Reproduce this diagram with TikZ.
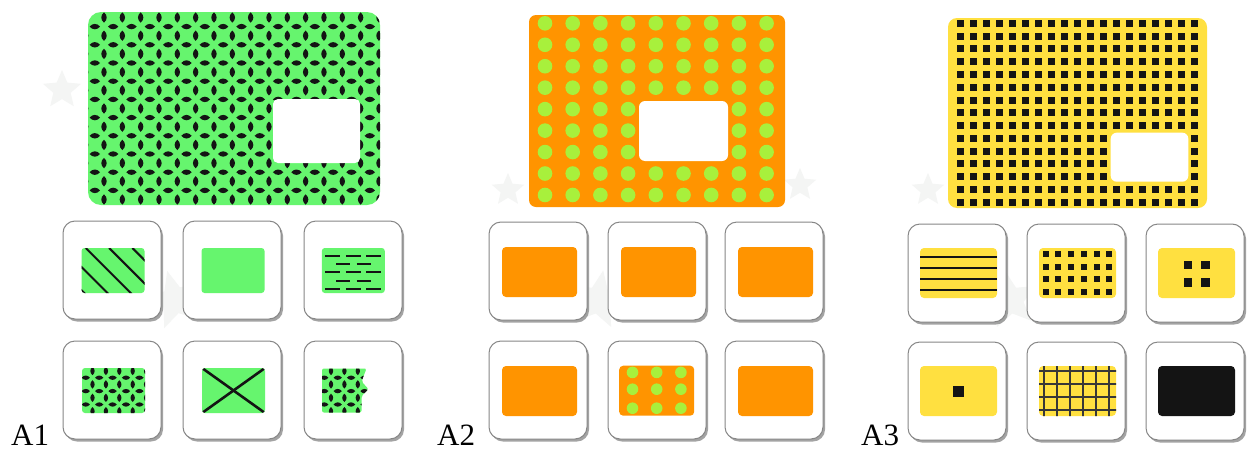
\documentclass[tikz,border=0pt]{standalone}
\usepackage{fontspec}
\setmainfont{Liberation Serif}
\usetikzlibrary{shapes.geometric,shadows}
\definecolor{pgreen}{RGB}{102,245,110}
\definecolor{porange}{RGB}{255,148,0}
\definecolor{pdot}{RGB}{168,240,60}
\definecolor{pyellow}{RGB}{255,224,64}
\definecolor{pblack}{RGB}{20,20,20}
\definecolor{tileborder}{RGB}{135,135,135}
\definecolor{starbg}{RGB}{244,245,244}
\newcommand\lensV[3]{\fill[pblack,shift={(#1,#2)},scale=#3] (0,-5.2) .. controls (3.6,-2.2) and (3.6,2.2) .. (0,5.2) .. controls (-3.6,2.2) and (-3.6,-2.2) .. cycle;}
\newcommand\lensH[3]{\fill[pblack,shift={(#1,#2)},scale=#3,rotate=90] (0,-5.2) .. controls (3.6,-2.2) and (3.6,2.2) .. (0,5.2) .. controls (-3.6,2.2) and (-3.6,-2.2) .. cycle;}
\begin{document}
\begin{tikzpicture}[x=1pt,y=-1pt,
  tile/.style={draw=tileborder, line width=1pt, fill=white, rounded corners=12pt,
    minimum width=98pt, minimum height=98pt, inner sep=0pt,
    drop shadow={shadow xshift=2pt, shadow yshift=-2.5pt, fill=black!45, opacity=0.8}},
  mainpanel/.style={inner sep=0pt, outer sep=0pt},
  hole/.style={fill=white, inner sep=0pt, rounded corners=5pt},
  inA1/.style={fill=pgreen, minimum width=63pt, minimum height=45pt, inner sep=0pt, outer sep=0pt, rounded corners=3pt},
  inA2/.style={fill=porange, minimum width=75pt, minimum height=50pt, inner sep=0pt, outer sep=0pt, rounded corners=4pt},
  inA3/.style={fill=pyellow, minimum width=77pt, minimum height=50pt, inner sep=0pt, outer sep=0pt, rounded corners=4pt},
  bgstar/.style={star, star points=5, star point ratio=2.2, fill=starbg, inner sep=0pt},
  lbl/.style={anchor=base west, inner sep=0pt, font=\fontsize{31}{31}\selectfont}
]
\useasboundingbox (0,0) rectangle (1259,453);
\fill[white] (0,0) rectangle (1259,453);

% faint background stars
\node[bgstar, minimum size=40pt] (s1) at (62,90) {};
\node[bgstar, minimum size=34pt] (s2) at (508,190) {};
\node[bgstar, minimum size=34pt] (s3) at (928,190) {};
\node[bgstar, minimum size=60pt, rotate=15] (s4) at (175,300) {};
\node[bgstar, minimum size=60pt, rotate=-10] (s5) at (598,300) {};
\node[bgstar, minimum size=60pt, rotate=10] (s6) at (1010,300) {};
\node[bgstar, minimum size=34pt] (s7) at (800,185) {};

% ================= A1 main =================
\node[mainpanel, fill=pgreen, rounded corners=13pt, minimum width=292pt, minimum height=193pt] (a1main) at (234,108.5) {};
\begin{scope}
  \clip[rounded corners=13pt] (a1main.north west) rectangle (a1main.south east);
  \foreach \i in {-1,...,15}{\foreach \j in {-1,...,11}{
    \lensV{104+18.33*\i}{17.5+18.2*\j}{1}
    \lensH{113.17+18.33*\i}{26.6+18.2*\j}{1}
  }}
\end{scope}
\node[hole, minimum width=87pt, minimum height=64pt] (a1hole) at (316.5,131) {};

% ================= A2 main =================
\node[mainpanel, fill=porange, rounded corners=7pt, minimum width=256pt, minimum height=192pt] (a2main) at (657,111) {};
\foreach \i in {0,...,8}{\foreach \j in {0,...,8}{
  \fill[pdot] (545+27.7*\i, 23.3+21.46*\j) circle (7.3);
}}
\node[hole, rounded corners=6pt, minimum width=89pt, minimum height=60pt] (a2hole) at (683.5,131) {};

% ================= A3 main =================
\node[mainpanel, fill=pyellow, rounded corners=9pt, minimum width=259pt, minimum height=190pt] (a3main) at (1077.5,113) {};
\foreach \i in {0,...,18}{\foreach \j in {0,...,14}{
  \fill[pblack] (960.7+12.98*\i-3.5, 23.3+12.79*\j-3.5) rectangle ++(7,7);
}}
\node[hole, rounded corners=6pt, minimum width=77.6pt, minimum height=49pt] (a3hole) at (1149.5,157.2) {};

% ================= A1 tiles =================
\foreach \n/\x/\y in {1/112/270, 2/232/270, 3/353/270, 4/112/390, 5/232/390, 6/353/390}{
  \node[tile] (a1t\n) at (\x,\y) {};
}
\node[inA1] (a1o1) at (113,270.5) {};
\node[inA1] (a1o2) at (233,270.5) {};
\node[inA1] (a1o3) at (353.3,270.5) {};
\node[inA1] (a1o4) at (113.5,390.5) {};
\node[inA1] (a1o5) at (233.5,390.5) {};
% tile 1: diagonal lines
\begin{scope}
  \clip[rounded corners=3pt] (a1o1.north west) rectangle (a1o1.south east);
  \foreach \k in {-2,...,3}{
    \draw[pblack, line width=2pt] (81.5+4.3+23.3*\k, 248) -- ++(70,70);
  }
\end{scope}
% tile 3: dashes
\foreach \yy in {-16.8,0,16.8}{
  \foreach \xx in {-20.5,0,20.5}{
    \draw[pblack, line width=2pt] (353.3+\xx-7.5, 272.3+\yy) -- ++(15,0);
  }}
\foreach \yy in {-8.4,8.4}{
  \foreach \xx in {-10.25,10.25}{
    \draw[pblack, line width=2pt] (353.3+\xx-7, 272.3+\yy) -- ++(14,0);
  }}
% tile 4: lens pattern
\begin{scope}
  \clip[rounded corners=3pt] (a1o4.north west) rectangle (a1o4.south east);
  \foreach \i in {-1,...,5}{\foreach \j in {-1,...,4}{
    \lensV{82+10.5+13.4*\i}{368+3+13.4*\j}{0.8}
    \lensH{82+17.2+13.4*\i}{368+9.7+13.4*\j}{0.8}
  }}
\end{scope}
% tile 5: cross
\begin{scope}
  \clip[rounded corners=3pt] (a1o5.north west) rectangle (a1o5.south east);
  \draw[pblack, line width=2.6pt] (a1o5.north west) -- (a1o5.south east);
  \draw[pblack, line width=2.6pt] (a1o5.south west) -- (a1o5.north east);
\end{scope}
% tile 6: cut piece with lens pattern
\coordinate (a1o6) at (322,368.5);
\begin{scope}
  \clip[rounded corners=2pt] (a1o6) -- ++(44.5,0) -- (361.5,381.5) -- (368.5,389) -- (361.5,396) -- (361.5,412.5) -- (322,412.5) -- cycle;
  \fill[pgreen] (320,366) rectangle (370,415);
  \foreach \i in {-1,...,4}{\foreach \j in {-1,...,4}{
     \lensV{322+9+13.4*\i}{368+3+13.4*\j}{0.8}
     \lensH{322+15.7+13.4*\i}{368+9.7+13.4*\j}{0.8}
  }}
\end{scope}

% ================= A2 tiles =================
\foreach \n/\x/\y in {1/538/271, 2/657/271, 3/774/271, 4/538/390, 5/657/390, 6/774/390}{
  \node[tile] (a2t\n) at (\x,\y) {};
}
\node[inA2] (a2o1) at (539.5,272) {};
\node[inA2] (a2o2) at (658.5,272) {};
\node[inA2] (a2o3) at (775.5,272) {};
\node[inA2] (a2o4) at (539.5,391) {};
\node[inA2] (a2o5) at (656.7,390.7) {};
\node[inA2] (a2o6) at (775.5,391) {};
\begin{scope}
  \clip[rounded corners=4pt] (a2o5.north west) rectangle (a2o5.south east);
  \foreach \xx in {-24.2,0,24.2}{\foreach \yy in {-18.3,-1.5,17.5}{
    \fill[pdot] (656.7+\xx, 390.7+\yy) circle (5.8);
  }}
\end{scope}

% ================= A3 tiles =================
\foreach \n/\x/\y in {1/957/273, 2/1076/273, 3/1195/273, 4/957/391, 5/1076/391, 6/1195/391}{
  \node[tile] (a3t\n) at (\x,\y) {};
}
\node[inA3] (a3o1) at (958.5,273) {};
\node[inA3] (a3o2) at (1077.5,273) {};
\node[inA3] (a3o3) at (1196.5,273) {};
\node[inA3] (a3o4) at (958.5,391) {};
\node[inA3] (a3o5) at (1077.5,391) {};
\node[inA3, fill=pblack] (a3o6) at (1196.5,391) {};
% tile 1: horizontal lines
\foreach \yy in {-16.5,-5.5,5.5,16.5}{
  \draw[pblack, line width=2pt] (a3o1.west |- 0,273+\yy) -- (a3o1.east |- 0,273+\yy);
}
% tile 2: 6x4 squares
\foreach \i in {0,...,5}{\foreach \j in {0,...,3}{
  \fill[pblack] (1077.5-31.8+12.72*\i-3, 273-18.7+12.45*\j-3) rectangle ++(6,6);
}}
% tile 3: 2x2 squares
\foreach \xx in {-8.8,8.8}{\foreach \yy in {-8.6,8.8}{
  \fill[pblack] (1196.5+\xx-4.2, 273.5+\yy-4.2) rectangle ++(8.4,8.4);
}}
% tile 4: one square
\fill[pblack] (958.3-5.5,391-5.5) rectangle ++(11,11);
% tile 5: grid
\begin{scope}
  \clip[rounded corners=4pt] (a3o5.north west) rectangle (a3o5.south east);
  \foreach \i in {0,...,5}{
    \draw[pblack!85, line width=1.8pt] (1044+12.95*\i, 360) -- (1044+12.95*\i, 420);
  }
  \foreach \j in {0,...,3}{
    \draw[pblack!85, line width=1.8pt] (1035, 371+13*\j) -- (1120, 371+13*\j);
  }
\end{scope}

% ================= labels =================
\node[lbl] (lA1) at (11,445) {A1};
\node[lbl] (lA2) at (437,445) {A2};
\node[lbl] (lA3) at (861,445) {A3};
\end{tikzpicture}
\end{document}
